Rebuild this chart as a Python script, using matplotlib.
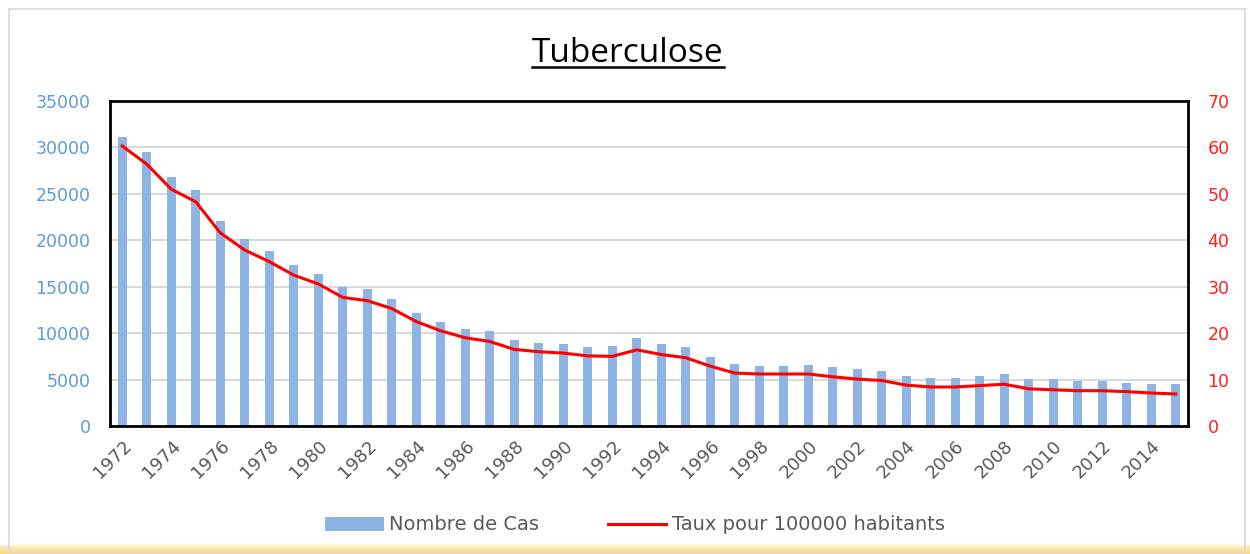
import matplotlib
matplotlib.use("Agg")
import matplotlib.pyplot as plt
import numpy as np
from matplotlib.patches import Rectangle
from matplotlib.lines import Line2D

years = list(range(1972, 2016))
cases = [31150, 29540, 26780, 25410, 22110, 20100, 18850, 17340, 16370, 14970,
         14720, 13710, 12200, 11200, 10450, 10230, 9220, 8940, 8790, 8470,
         8580, 9440, 8790, 8470, 7430, 6680, 6460, 6460, 6570, 6320,
         6180, 5920, 5420, 5170, 5170, 5420, 5560, 5020, 5020, 4810,
         4810, 4670, 4560, 4560]
rate = [60.3, 56.4, 51.0, 48.3, 41.6, 37.9, 35.4, 32.5, 30.6, 27.7,
        27.0, 25.3, 22.5, 20.5, 19.0, 18.2, 16.5, 16.0, 15.7, 15.1,
        15.0, 16.4, 15.4, 14.7, 12.9, 11.4, 11.2, 11.2, 11.2, 10.6,
        10.1, 9.8, 8.8, 8.4, 8.4, 8.7, 9.0, 8.0, 7.8, 7.6,
        7.6, 7.4, 7.1, 6.9]
left_ticks = [0, 5000, 10000, 15000, 20000, 25000, 30000, 35000]
right_ticks = [0, 10, 20, 30, 40, 50, 60, 70]

W, H = 1250, 554
fig = plt.figure(figsize=(W / 100, H / 100), dpi=100)
fig.patch.set_facecolor("white")

# cadre gris + bande jaune en bas
fig.patches.append(Rectangle((9 / W, 1 - 552 / H), 1236 / W, 543 / H,
                             transform=fig.transFigure, fill=False,
                             edgecolor="#D9D9D9", linewidth=1.2))
band = fig.add_axes([0, 0, 1, 11 / H])
grad = np.linspace(0, 1, 50).reshape(-1, 1)
band.imshow(grad, aspect="auto", cmap=matplotlib.colors.LinearSegmentedColormap.from_list(
    "y", ["#FFFFFF", "#FCE6A4", "#F9DC86"]), extent=[0, 1, 0, 1])
band.axis("off")

ax = fig.add_axes([110 / W, 1 - 426 / H, 1078 / W, 325 / H])
x = np.arange(len(years))
ax.bar(x, cases, width=0.37, color="#8DB4E2", zorder=2, label="Nombre de Cas")
ax.set_ylim(0, 35000)
ax.set_xlim(-0.5, len(years) - 0.5)
ax.set_yticks(left_ticks)
ax.yaxis.grid(True, color="#D9D9D9", linewidth=1.5, zorder=0)
ax.set_axisbelow(True)
ax.tick_params(axis="y", length=0, labelsize=12.5, labelcolor="#5B9BD5", pad=14)
ax.set_xticks(x[::2])
ax.set_xticklabels([str(y) for y in years[::2]], rotation=45, ha="right",
                   rotation_mode="anchor", fontsize=13, color="#595959")
ax.tick_params(axis="x", length=0, pad=8)
for s in ax.spines.values():
    s.set_color("black")
    s.set_linewidth(2)

ax2 = ax.twinx()
ax2.plot(x, rate, color="#FF0000", linewidth=2.2, zorder=3,
         label="Taux pour 100000 habitants")
ax2.set_ylim(0, 70)
ax2.set_yticks(right_ticks)
ax2.tick_params(axis="y", length=0, labelsize=12.5, labelcolor="#FF2020", pad=14)
for s in ax2.spines.values():
    s.set_visible(False)

t = fig.text(628 / W, 1 - 62 / H, "Tuberculose", ha="center", va="baseline",
             fontsize=24, family="Open Sans", color="black")
fig.canvas.draw()
bb = t.get_window_extent()
yl = H - 67
fig.add_artist(Line2D([bb.x0 / W, bb.x1 / W], [yl / H, yl / H],
                      transform=fig.transFigure, color="black", linewidth=1.8))

h1, l1 = ax.get_legend_handles_labels()
h2, l2 = ax2.get_legend_handles_labels()
fig.legend(h1 + h2, l1 + l2, loc="center", bbox_to_anchor=(635 / W, 1 - 525 / H),
           ncol=2, frameon=False, fontsize=14, labelcolor="#595959",
           handlelength=3.0, handleheight=0.7, columnspacing=3.5, handletextpad=0.3)

fig.savefig("out.png", dpi=100)
